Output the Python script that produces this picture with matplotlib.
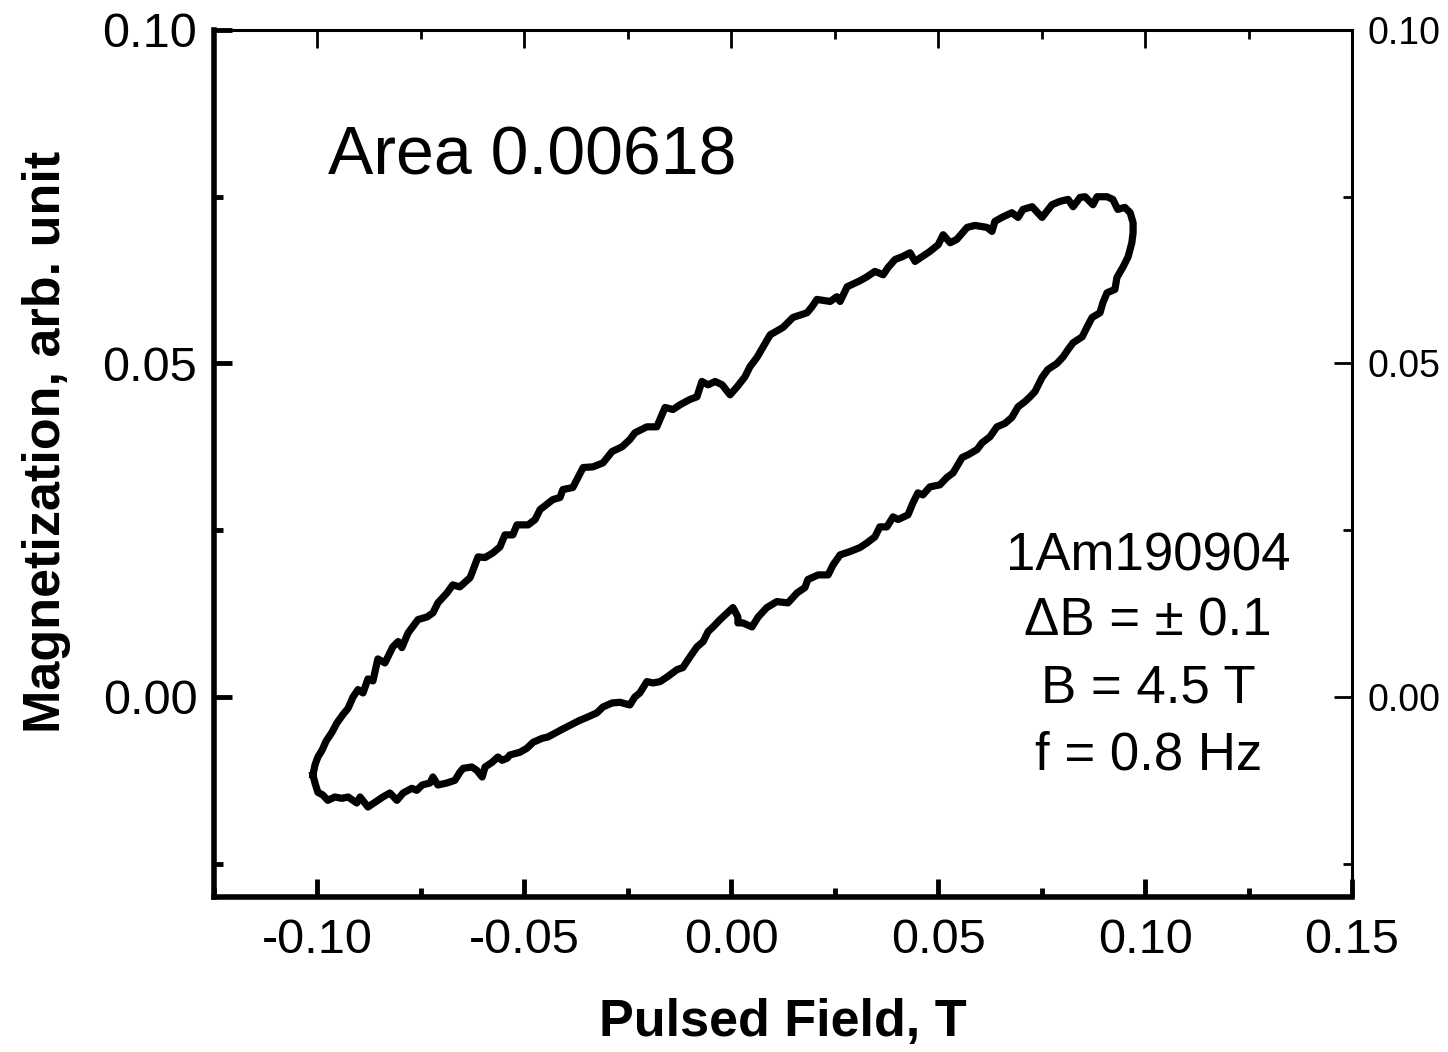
import numpy as np
import matplotlib
matplotlib.use('Agg')
from matplotlib import pyplot as plt
from matplotlib.ticker import MultipleLocator, FormatStrFormatter

plt.rcParams['font.family'] = ['Liberation Sans', 'DejaVu Sans']

# hysteresis loop: upper branch (left -> right), then lower branch back
field = [
    -0.1011, -0.1006, -0.0999, -0.0989, -0.0979, -0.0965, -0.0953, -0.0938, -0.0926, -0.0914,
    -0.0902, -0.0890, -0.0878, -0.0866, -0.0854, -0.0837, -0.0818, -0.0805, -0.0796, -0.0781,
    -0.0757, -0.0735, -0.0721, -0.0709, -0.0687, -0.0673, -0.0656, -0.0631, -0.0612, -0.0595,
    -0.0576, -0.0559, -0.0547, -0.0528, -0.0518, -0.0491, -0.0474, -0.0462, -0.0431, -0.0414,
    -0.0407, -0.0383, -0.0358, -0.0334, -0.0310, -0.0288, -0.0264, -0.0245, -0.0233, -0.0204,
    -0.0180, -0.0160, -0.0141, -0.0124, -0.0100, -0.0083, -0.0071, -0.0056, -0.0039, -0.0022,
    -0.0003, 0.0014, 0.0033, 0.0045, 0.0062, 0.0094, 0.0125, 0.0149, 0.0183, 0.0195,
    0.0207, 0.0239, 0.0255, 0.0263, 0.0280, 0.0311, 0.0328, 0.0347, 0.0367, 0.0379,
    0.0396, 0.0413, 0.0432, 0.0444, 0.0468, 0.0480, 0.0500, 0.0512, 0.0529, 0.0545,
    0.0570, 0.0589, 0.0618, 0.0630, 0.0637, 0.0657, 0.0678, 0.0693, 0.0705, 0.0727,
    0.0751, 0.0775, 0.0794, 0.0814, 0.0826, 0.0843, 0.0855, 0.0874, 0.0884, 0.0908,
    0.0922, 0.0934, 0.0951, 0.0964, 0.0971, 0.0971, 0.0968, 0.0959,
    0.0947, 0.0932, 0.0927, 0.0908, 0.0898, 0.0891, 0.0872, 0.0860, 0.0848, 0.0826,
    0.0814, 0.0802, 0.0787, 0.0765, 0.0751, 0.0734, 0.0722, 0.0710, 0.0693, 0.0678,
    0.0661, 0.0642, 0.0625, 0.0606, 0.0594, 0.0572, 0.0558, 0.0536, 0.0521, 0.0504,
    0.0480, 0.0463, 0.0451, 0.0439, 0.0427, 0.0403, 0.0391, 0.0376, 0.0359, 0.0347,
    0.0328, 0.0311, 0.0287, 0.0263, 0.0246, 0.0234, 0.0210, 0.0185, 0.0178, 0.0159,
    0.0137, 0.0110, 0.0086, 0.0065, 0.0050, 0.0028, 0.0016, 0.0016, 0.0004, -0.0015,
    -0.0027, -0.0044, -0.0056, -0.0068, -0.0083, -0.0100, -0.0117, -0.0131, -0.0155, -0.0172,
    -0.0189, -0.0204, -0.0221, -0.0233, -0.0245, -0.0269, -0.0288, -0.0310, -0.0325, -0.0354,
    -0.0366, -0.0407, -0.0443, -0.0457, -0.0479, -0.0494, -0.0511, -0.0535, -0.0542, -0.0554,
    -0.0564, -0.0578, -0.0595, -0.0602, -0.0615, -0.0627, -0.0648, -0.0656, -0.0668, -0.0687,
    -0.0709, -0.0721, -0.0728, -0.0747, -0.0760, -0.0772, -0.0793, -0.0808, -0.0825, -0.0842,
    -0.0861, -0.0878, -0.0897, -0.0905, -0.0926, -0.0941, -0.0958, -0.0975, -0.0987, -0.0999,
    -0.1006, -0.1011,
]
magnetization = [
    -0.0117, -0.0102, -0.0090, -0.0080, -0.0066, -0.0053, -0.0039, -0.0026, -0.0017, 0.0000,
    0.0011, 0.0006, 0.0027, 0.0024, 0.0057, 0.0051, 0.0075, 0.0083, 0.0074, 0.0096,
    0.0116, 0.0120, 0.0126, 0.0141, 0.0156, 0.0168, 0.0165, 0.0179, 0.0210, 0.0209,
    0.0216, 0.0225, 0.0243, 0.0243, 0.0258, 0.0258, 0.0266, 0.0281, 0.0296, 0.0299,
    0.0311, 0.0314, 0.0344, 0.0345, 0.0351, 0.0368, 0.0375, 0.0386, 0.0396, 0.0405,
    0.0405, 0.0434, 0.0431, 0.0438, 0.0446, 0.0450, 0.0473, 0.0468, 0.0473, 0.0468,
    0.0453, 0.0465, 0.0480, 0.0495, 0.0509, 0.0543, 0.0554, 0.0569, 0.0576, 0.0585,
    0.0596, 0.0593, 0.0600, 0.0593, 0.0615, 0.0624, 0.0630, 0.0638, 0.0633, 0.0644,
    0.0656, 0.0660, 0.0666, 0.0653, 0.0663, 0.0668, 0.0678, 0.0693, 0.0681, 0.0686,
    0.0704, 0.0707, 0.0704, 0.0698, 0.0713, 0.0720, 0.0726, 0.0719, 0.0731, 0.0735,
    0.0719, 0.0738, 0.0743, 0.0746, 0.0735, 0.0749, 0.0750, 0.0738, 0.0750, 0.0750,
    0.0746, 0.0731, 0.0734, 0.0726, 0.0711, 0.0696, 0.0681, 0.0660,
    0.0645, 0.0629, 0.0611, 0.0606, 0.0591, 0.0576, 0.0569, 0.0555, 0.0540, 0.0531,
    0.0521, 0.0510, 0.0500, 0.0491, 0.0479, 0.0458, 0.0450, 0.0443, 0.0435, 0.0419,
    0.0410, 0.0405, 0.0390, 0.0381, 0.0371, 0.0363, 0.0359, 0.0336, 0.0329, 0.0318,
    0.0315, 0.0303, 0.0306, 0.0291, 0.0273, 0.0266, 0.0270, 0.0255, 0.0255, 0.0240,
    0.0231, 0.0224, 0.0218, 0.0213, 0.0198, 0.0183, 0.0183, 0.0176, 0.0164, 0.0156,
    0.0141, 0.0143, 0.0134, 0.0120, 0.0105, 0.0111, 0.0111, 0.0120, 0.0134, 0.0123,
    0.0116, 0.0105, 0.0098, 0.0083, 0.0075, 0.0060, 0.0044, 0.0041, 0.0030, 0.0023,
    0.0021, 0.0023, 0.0006, 0.0000, -0.0012, -0.0008, -0.0009, -0.0015, -0.0024, -0.0032,
    -0.0035, -0.0048, -0.0060, -0.0062, -0.0068, -0.0077, -0.0083, -0.0087, -0.0092, -0.0095,
    -0.0090, -0.0098, -0.0105, -0.0120, -0.0110, -0.0105, -0.0107, -0.0113, -0.0125, -0.0129,
    -0.0132, -0.0120, -0.0129, -0.0132, -0.0140, -0.0137, -0.0144, -0.0155, -0.0144, -0.0150,
    -0.0158, -0.0165, -0.0150, -0.0159, -0.0150, -0.0152, -0.0150, -0.0155, -0.0147, -0.0143,
    -0.0129, -0.0117,
]

x_ticks = [-0.10, -0.05, 0.00, 0.05, 0.10, 0.15]
y_ticks = [0.00, 0.05, 0.10]
area_text = 'Area 0.00618'
info_lines = ['1Am190904', '\u0394B = \u00b1 0.1', 'B = 4.5 T', 'f = 0.8 Hz']

fig = plt.figure(figsize=(14.48, 10.52), dpi=100)
ax = fig.add_axes([0.1478, 0.1473, 0.7859, 0.8242])

ax.plot(field, magnetization, color='black', lw=5.2, solid_joinstyle='round')
ax.set_xlim(-0.125, 0.15)
ax.set_ylim(-0.03, 0.10)

ax.xaxis.set_minor_locator(MultipleLocator(0.025))
ax.yaxis.set_minor_locator(MultipleLocator(0.025))
ax.set_xticks(x_ticks)
ax.set_yticks(y_ticks)
ax.xaxis.set_major_formatter(FormatStrFormatter('%.2f'))
ax.yaxis.set_major_formatter(FormatStrFormatter('%.2f'))

# thick left/bottom frame, thin top/right
for side in ['left', 'bottom']:
    ax.spines[side].set_linewidth(4)
for side in ['top', 'right']:
    ax.spines[side].set_visible(False)

ax.tick_params(which='both', direction='in', width=3.5, labelsize=35,
               top=False, right=False)
ax.tick_params(axis='x', pad=15)
ax.tick_params(axis='y', pad=12)
ax.tick_params(which='major', length=13)
ax.tick_params(which='minor', length=6.5)

top = ax.secondary_xaxis('top')
top.set_xticks(x_ticks)
top.xaxis.set_minor_locator(MultipleLocator(0.025))
top.spines['top'].set_linewidth(2.2)
top.tick_params(which='both', direction='in', width=2, labeltop=False)
top.tick_params(which='major', length=13)
top.tick_params(which='minor', length=6.5)

right = ax.secondary_yaxis('right')
right.set_yticks(y_ticks)
right.yaxis.set_minor_locator(MultipleLocator(0.025))
right.yaxis.set_major_formatter(FormatStrFormatter('%.2f'))
right.spines['right'].set_linewidth(2.2)
right.tick_params(which='both', direction='in', width=2, labelsize=27, pad=11)
right.tick_params(which='major', length=13)
right.tick_params(which='minor', length=6.5)

ax.set_xlabel('Pulsed Field, T', fontsize=37.5, fontweight='bold', va='center')
ax.xaxis.set_label_coords(0.5, -0.145)
ax.set_ylabel('Magnetization, arb. unit', fontsize=37.5, fontweight='bold', va='center')
ax.yaxis.set_label_coords(-0.147, 0.525)

ax.text(0.100, 0.854, area_text, transform=ax.transAxes, fontsize=49,
        ha='left', va='center')

info_y = [0.393, 0.318, 0.240, 0.163]
for line, yy in zip(info_lines, info_y):
    ax.text(0.821, yy, line, transform=ax.transAxes, fontsize=38,
            ha='center', va='center')

plt.savefig('out.png', dpi=100)
plt.close()
